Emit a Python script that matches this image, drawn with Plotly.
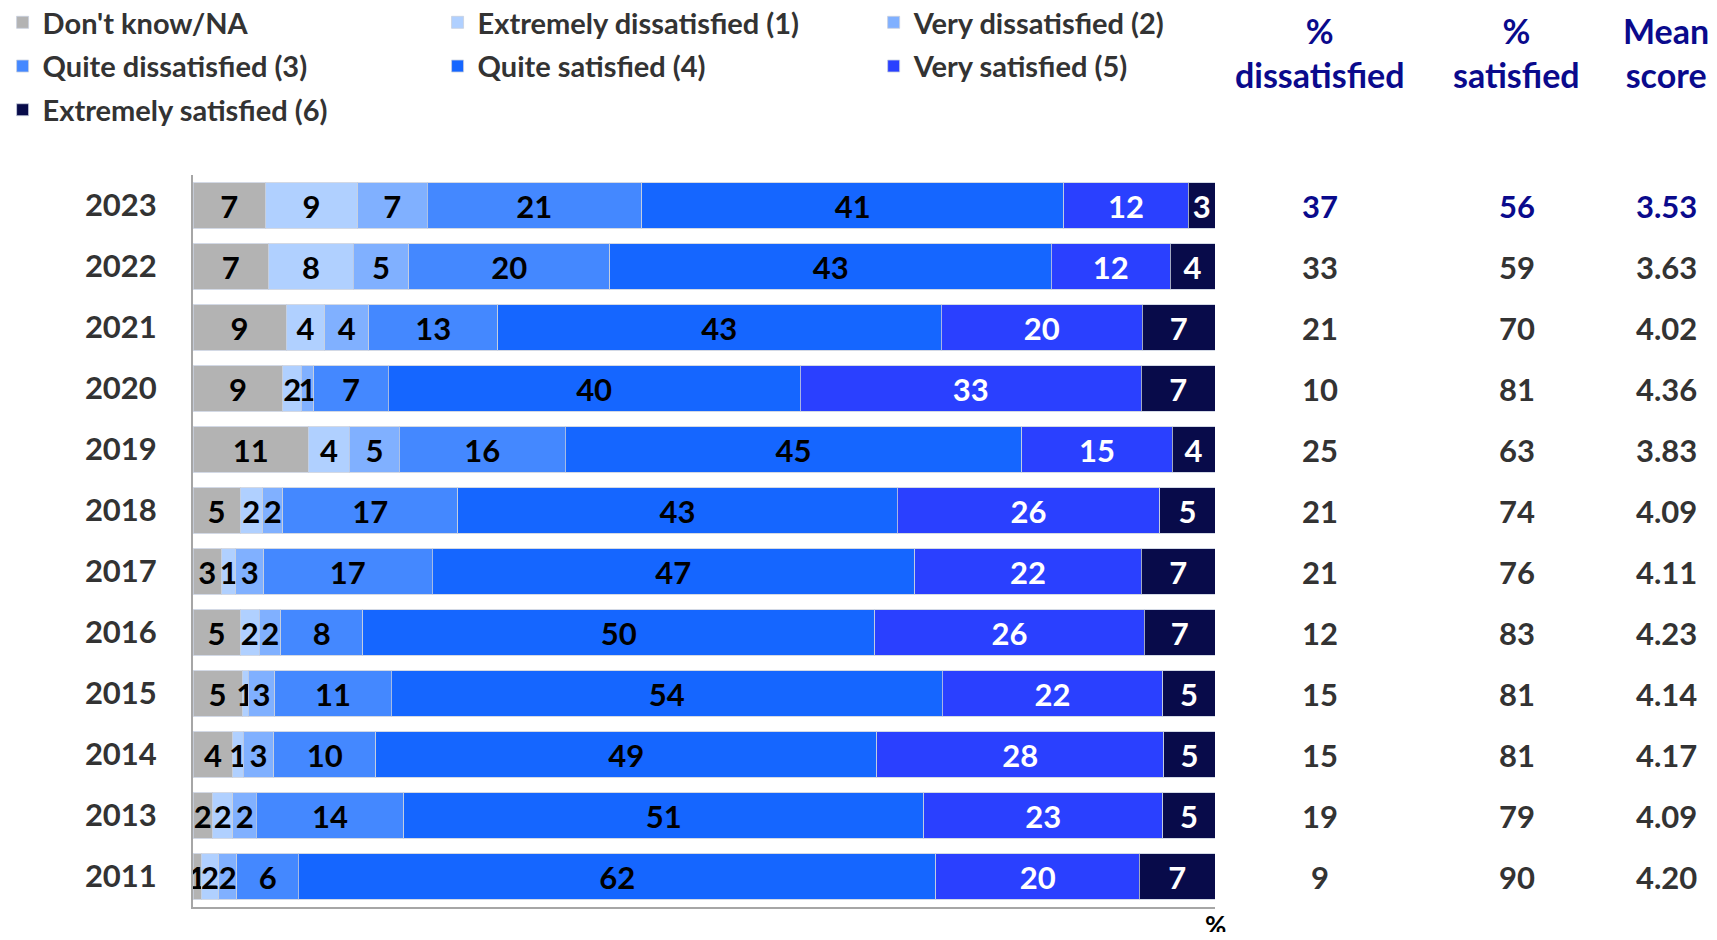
import plotly.graph_objects as go

# years, top to bottom
years = ["2023", "2022", "2021", "2020", "2019", "2018", "2017", "2016", "2015", "2014", "2013", "2011"]

# segment widths (% of respondents)
dk = [7.1, 7.4, 9.1, 8.8, 11.3, 4.6, 2.8, 4.6, 4.8, 3.9, 1.9, 0.8]
ed1 = [9.0, 8.3, 3.8, 1.8, 4.0, 2.2, 1.4, 1.9, 0.6, 1.0, 2.0, 1.7]
vd2 = [6.8, 5.4, 4.3, 1.2, 4.9, 2.0, 2.7, 2.1, 2.6, 3.0, 2.3, 1.8]
qd3 = [21.0, 19.7, 12.6, 7.3, 16.2, 17.1, 16.5, 8.0, 11.4, 10.0, 14.4, 6.0]
qs4 = [41.3, 43.2, 43.4, 40.3, 44.7, 43.0, 47.2, 50.1, 53.9, 49.0, 50.9, 62.4]
vs5 = [12.2, 11.6, 19.7, 33.4, 14.7, 25.7, 22.2, 26.4, 21.6, 28.1, 23.4, 19.9]
es6 = [2.6, 4.4, 7.1, 7.2, 4.2, 5.4, 7.2, 6.9, 5.1, 5.0, 5.1, 7.4]

# printed labels on the segments
dk_l = [7, 7, 9, 9, 11, 5, 3, 5, 5, 4, 2, 1]
ed1_l = [9, 8, 4, 2, 4, 2, 1, 2, 1, 1, 2, 2]
vd2_l = [7, 5, 4, 1, 5, 2, 3, 2, 3, 3, 2, 2]
qd3_l = [21, 20, 13, 7, 16, 17, 17, 8, 11, 10, 14, 6]
qs4_l = [41, 43, 43, 40, 45, 43, 47, 50, 54, 49, 51, 62]
vs5_l = [12, 12, 20, 33, 15, 26, 22, 26, 22, 28, 23, 20]
es6_l = [3, 4, 7, 7, 4, 5, 7, 7, 5, 5, 5, 7]

# summary columns on the right
pct_dis = [37, 33, 21, 10, 25, 21, 21, 12, 15, 15, 19, 9]
pct_sat = [56, 59, 70, 81, 63, 74, 76, 83, 81, 81, 79, 90]
mean_score = ["3.53", "3.63", "4.02", "4.36", "3.83", "4.09", "4.11", "4.23", "4.14", "4.17", "4.09", "4.20"]

FONT = "Lato"
NAVY = "#0a0a8c"
GREY_TXT = "#333333"

series = [
    ("Don't know/NA", dk, dk_l, "#b3b3b3", "black", "legend"),
    ("Extremely dissatisfied (1)", ed1, ed1_l, "#b0d0ff", "black", "legend2"),
    ("Very dissatisfied (2)", vd2, vd2_l, "#80b0ff", "black", "legend3"),
    ("Quite dissatisfied (3)", qd3, qd3_l, "#4488ff", "black", "legend"),
    ("Quite satisfied (4)", qs4, qs4_l, "#1566ff", "black", "legend2"),
    ("Very satisfied (5)", vs5, vs5_l, "#2a40ff", "white", "legend3"),
    ("Extremely satisfied (6)", es6, es6_l, "#080b4a", "white", "legend"),
]

fig = go.Figure()
for name, vals, lbls, col, tcol, leg in series:
    fig.add_trace(go.Bar(
        y=years, x=vals, name=name, orientation="h",
        marker=dict(color=col, line=dict(color="rgba(200,208,222,0.8)", width=1)),
        text=[str(v) for v in lbls], textposition="inside", insidetextanchor="middle",
        textangle=0, textfont=dict(family=FONT, size=31, color=tcol, weight="bold"),
        legend=leg, legendgroup=name, hoverinfo="x+y+name",
    ))

# right-hand summary table
col_x = [1.1023, 1.2951, 1.4413]
headers = ["%<br>dissatisfied", "%<br>satisfied", "Mean<br>score"]
for cx, h in zip(col_x, headers):
    fig.add_annotation(x=cx, y=1.167, xref="paper", yref="paper", text=h, showarrow=False,
                       font=dict(family=FONT, size=34, color=NAVY, weight="bold"),
                       xanchor="center", yanchor="middle")

for i in range(len(years)):
    c = NAVY if i == 0 else GREY_TXT
    for cx, v in zip(col_x, [pct_dis[i], pct_sat[i], mean_score[i]]):
        # category index on the y axis
        fig.add_annotation(x=cx, y=i, xref="paper", yref="y", text=str(v), showarrow=False,
                           font=dict(family=FONT, size=31, color=c, weight="bold"),
                           xanchor="center", yanchor="middle")

fig.add_annotation(x=1.0, y=0.0, xref="paper", yref="paper", text="%", showarrow=False,
                   font=dict(family=FONT, size=26, color="black", weight="bold"),
                   xanchor="center", yanchor="top")

leg_common = dict(orientation="v", xref="paper", yref="paper", yanchor="top", xanchor="left",
                  font=dict(family=FONT, size=29, color=GREY_TXT, weight="bold"),
                  tracegroupgap=3, bgcolor="rgba(0,0,0,0)", traceorder="grouped")

fig.update_layout(
    width=1701, height=924,
    barmode="stack", bargap=0.25,
    plot_bgcolor="white", paper_bgcolor="white",
    margin=dict(l=185, r=494, t=167, b=25, autoexpand=False),
    uniformtext=dict(minsize=31, mode="show"),
    legend=dict(x=-0.1863, y=1.2432, **leg_common),
    legend2=dict(x=0.2393, y=1.2432, **leg_common),
    legend3=dict(x=0.666, y=1.2432, **leg_common),
    xaxis=dict(range=[0, 100], showticklabels=False, showgrid=False, zeroline=False,
               showline=True, linecolor="#a6a6a6", linewidth=2, ticks=""),
    yaxis=dict(type="category", categoryorder="array", categoryarray=years,
               range=[len(years) - 0.5, -0.5], autorange=False,
               showgrid=False, zeroline=False,
               showline=True, linecolor="#a6a6a6", linewidth=2, ticks="",
               ticklabelstandoff=28,
               tickfont=dict(family=FONT, size=31, color=GREY_TXT, weight="bold")),
    showlegend=True,
)

fig.write_html("out.html")
